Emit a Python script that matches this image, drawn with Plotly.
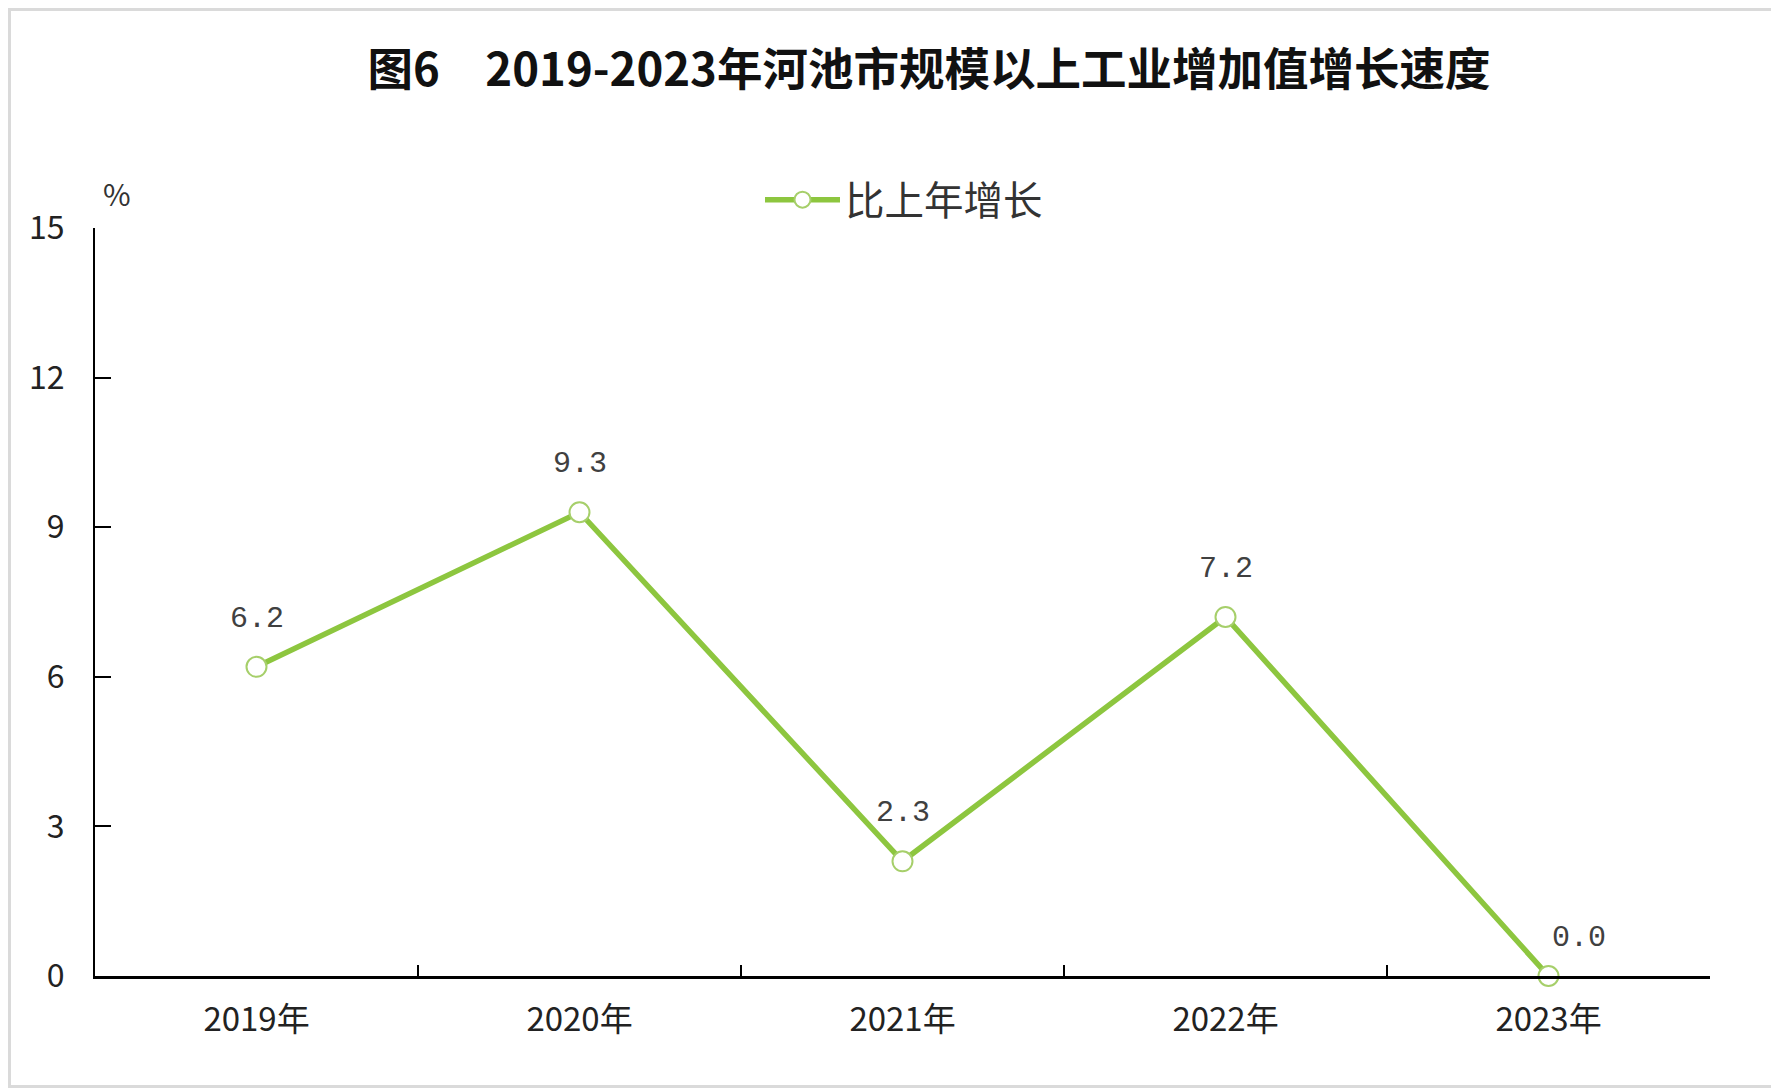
import plotly.graph_objects as go

years = ["2019年", "2020年", "2021年", "2022年", "2023年"]
growth = [6.2, 9.3, 2.3, 7.2, 0.0]
y_ticks = [0, 3, 6, 9, 12, 15]
series_name = "比上年增长"
title_text = "图6\u30002019-2023年河池市规模以上工业增加值增长速度"

# page body adds an 8px offset, so the figure is drawn 8px smaller
OFF = 8
W, H = 1779 - OFF, 1088 - OFF
ML, MR, MT, MB = 95 - OFF, 69, 228 - OFF, 112
PW, PH = W - ML - MR, H - MT - MB

LINE_GREEN = "#8DC63F"
CJK = "Noto Sans CJK SC"

fig = go.Figure()
fig.add_trace(go.Scatter(
    x=years, y=growth, mode="lines+markers", name=series_name,
    line=dict(color=LINE_GREEN, width=5.5),
    marker=dict(size=20, color="white", line=dict(color="#A6CF6A", width=2)),
    cliponaxis=False,
))

# data labels
for i, (xv, yv) in enumerate(zip(years, growth)):
    last = i == len(years) - 1
    fig.add_annotation(
        x=xv, y=yv, xref="x", yref="y", text=f"{yv:.1f}", showarrow=False,
        xshift=30 if last else 0, yshift=38 if last else 48,
        font=dict(family="Liberation Mono", size=30, color="#404040"),
    )

# unit label
fig.add_annotation(
    xref="paper", yref="paper", x=(117 - OFF - ML) / PW, y=1 + (MT - (193 - OFF)) / PH,
    text="%", showarrow=False, xanchor="center", yanchor="middle",
    font=dict(family=CJK, size=30, color="#333333"),
)

# outer border
fig.add_shape(
    type="rect", xref="paper", yref="paper",
    x0=(-ML + 1.5) / PW, x1=(PW + MR - 1.5) / PW,
    y0=(-MB + 1.5) / PH, y1=(PH + MT - 1.5) / PH,
    line=dict(color="#DADADA", width=3), layer="below",
)

fig.update_layout(
    width=W, height=H,
    margin=dict(l=ML, r=MR, t=MT, b=MB, autoexpand=False),
    paper_bgcolor="white", plot_bgcolor="white",
    title=dict(
        text=f"<b>{title_text}</b>", xref="container", yref="container",
        x=(929 - OFF) / W, xanchor="center", y=1 - (70 - OFF) / H, yanchor="middle",
        font=dict(family=CJK, size=45.5, color="#111111"),
    ),
    showlegend=True,
    legend=dict(
        orientation="h", xref="container", yref="container",
        x=(760 - OFF) / W, xanchor="left", y=1 - (200 - OFF) / H, yanchor="middle",
        font=dict(family=CJK, size=39.5, color="#333333"),
        itemwidth=75, bgcolor="rgba(0,0,0,0)",
    ),
    xaxis=dict(
        type="category", range=[-0.5, len(years) - 0.5],
        tickson="boundaries", ticks="inside", ticklen=11, tickwidth=1.5,
        tickcolor="black", showline=True, linecolor="black", linewidth=2.5,
        showgrid=False, zeroline=False,
        tickfont=dict(family=CJK, size=33, color="#222222"),
        ticklabelstandoff=13,
    ),
    yaxis=dict(
        range=[0, 15], tickvals=y_ticks, ticktext=[str(v) for v in y_ticks],
        ticks="inside", ticklen=16, tickwidth=1.5, tickcolor="black",
        showline=True, linecolor="black", linewidth=2,
        showgrid=False, zeroline=False,
        tickfont=dict(family=CJK, size=32, color="#222222"),
        ticklabelstandoff=22,
    ),
)

fig.write_html("out.html")
